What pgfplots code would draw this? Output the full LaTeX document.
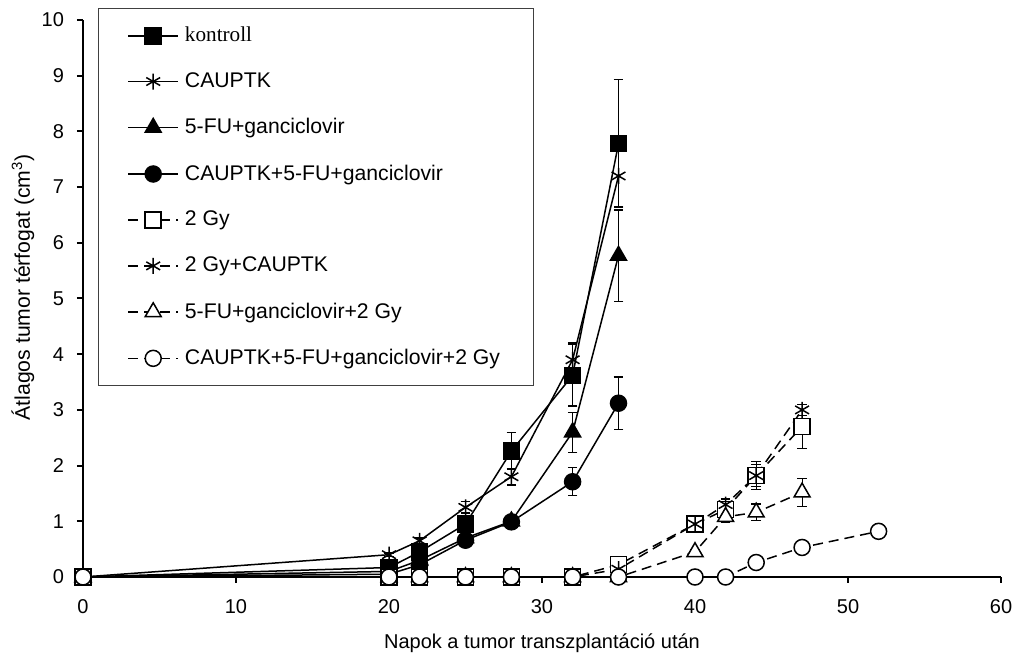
\documentclass[border=0pt]{standalone}
\usepackage{fontspec}
\setmainfont{Liberation Sans}
\newfontfamily\timesf{Liberation Serif}
\usepackage{pgfplots}
\pgfplotsset{compat=1.18}
\usetikzlibrary{calc}
\newcommand{\lent}[1]{\makebox[160pt][l]{#1}}
\begin{document}
\begin{tikzpicture}
\begin{axis}[name=ax,
 scale only axis, width=459pt, height=278.5pt,
 xmin=0,xmax=60,ymin=0,ymax=10,
 axis lines=left, axis line style={line width=1pt,-},
 xtick={0,10,...,60}, ytick={0,1,...,10},
 tick align=outside, major tick length=3pt, tick style={line width=1pt,black},
 /pgf/number format/assume math mode=true,
 ticklabel style={font=\fontsize{10}{12}\selectfont},
 xticklabel style={yshift=-4.5pt},
 yticklabel style={xshift=-3pt},
 xlabel={Napok a tumor transzplantáció után},
 ylabel={Átlagos tumor térfogat (cm\textsuperscript{3})},
 xlabel style={font=\fontsize{10}{12}\selectfont, at={(axis description cs:0.5,-0.1185)}, anchor=center},
 ylabel style={font=\fontsize{10.6}{12.7}\selectfont, at={(axis description cs:-0.0654,0.52)}, anchor=center},
 clip=false,
 legend cell align=left,
 legend style={at={(axis description cs:0.0163,1.0215)}, anchor=north west,
   draw=black!75, line width=0.5pt, font=\fontsize{10.6}{12.7}\selectfont,
   inner xsep=14.5pt, inner ysep=9.2pt, row sep=14pt,
   nodes={inner sep=0pt},
   /tikz/every odd column/.append style={column sep=3pt}},
 legend image code/.code={\draw[mark repeat=2,mark phase=2] plot coordinates {(0pt,0pt) (12.5pt,0pt) (25pt,0pt)};},
 every axis plot/.append style={black, line width=0.75pt,
   error bars/y dir=both, error bars/y explicit,
   error bars/error bar style={solid, line width=0.6pt},
   error bars/error mark options={solid, mark size=2.4pt, line width=0.6pt, rotate=90}},
 sol/.style={solid, mark options={solid}},
 das/.style={dash pattern=on 5pt off 3pt, mark options={solid, fill=white}},
]
\addplot[sol, mark=square*, mark size=4pt] table[x=x,y=y,y error=e]{
x y e
0 0 0
20 0.17 0.03
22 0.45 0.05
25 0.95 0.1
28 2.26 0.33
32 3.62 0.55
35 7.78 1.15
};
\addlegendentry{\lent{\timesf kontroll}}
\addplot[sol, mark=asterisk, mark size=4pt] table[x=x,y=y,y error=e]{
x y e
0 0 0
20 0.4 0.03
22 0.65 0.05
25 1.25 0.1
28 1.8 0.15
32 3.9 0.3
35 7.2 0.55
};
\addlegendentry{\lent{CAUPTK}}
\addplot[sol, mark=triangle*, mark size=4.6pt] table[x=x,y=y,y error=e]{
x y e
0 0 0
20 0.1 0.02
22 0.3 0.04
25 0.7 0.07
28 1.0 0.1
32 2.6 0.36
35 5.77 0.82
};
\addlegendentry{\lent{5-FU+ganciclovir}}
\addplot[sol, mark=*, mark size=4pt] table[x=x,y=y,y error=e]{
x y e
0 0 0
20 0.05 0.01
22 0.22 0.03
25 0.66 0.06
28 0.99 0.1
32 1.71 0.25
35 3.12 0.47
};
\addlegendentry{\lent{CAUPTK+5-FU+ganciclovir}}
\addplot[das, mark=square*, mark size=4pt] table[x=x,y=y,y error=e]{
x y e
0 0 0
20 0 0
22 0 0
25 0 0
28 0 0
32 0 0
35 0.22 0.03
40 0.95 0.08
42 1.21 0.1
44 1.82 0.25
47 2.7 0.4
};
\addlegendentry{\lent{2 Gy}}
\addplot[das, mark=asterisk, mark size=4pt] table[x=x,y=y,y error=e]{
x y e
0 0 0
20 0 0
22 0 0
25 0 0
28 0 0
32 0 0
35 0.14 0.03
40 0.95 0.1
42 1.3 0.1
44 1.82 0.2
47 3.0 0.1
};
\addlegendentry{\lent{2 Gy+CAUPTK}}
\addplot[das, mark=triangle*, mark size=4.6pt] table[x=x,y=y,y error=e]{
x y e
0 0 0
20 0 0
22 0 0
25 0 0
28 0 0
32 0 0
35 0 0
40 0.45 0.05
42 1.08 0.1
44 1.16 0.15
47 1.52 0.25
};
\addlegendentry{\lent{5-FU+ganciclovir+2 Gy}}
\addplot[das, mark=*, mark size=4pt] table[x=x,y=y,y error=e]{
x y e
0 0 0
20 0 0
22 0 0
25 0 0
28 0 0
32 0 0
35 0 0
40 0 0.05
42 0 0
44 0.26 0.03
47 0.53 0.08
52 0.82 0.12
};
\addlegendentry{\lent{CAUPTK+5-FU+ganciclovir+2 Gy}}
\end{axis}
\pgfresetboundingbox
\path[use as bounding box] ($(ax.south west)+(-41.5pt,-40.5pt)$) rectangle ($(ax.north east)+(8.5pt,10pt)$);
\end{tikzpicture}
\end{document}
